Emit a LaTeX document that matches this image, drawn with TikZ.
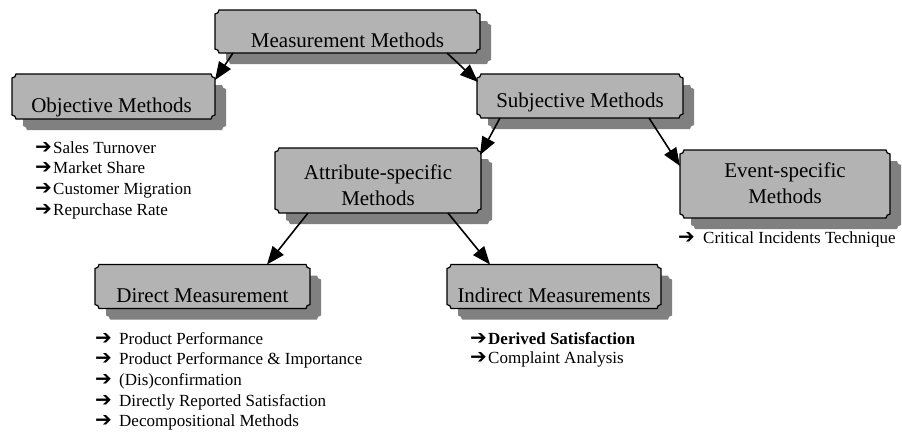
\documentclass[tikz,border=0pt]{standalone}
\usepackage{fontspec}
\setmainfont{Liberation Serif}
\newfontfamily\arrowfont{DejaVu Sans}
\usetikzlibrary{arrows.meta,calc}
\definecolor{boxgray}{HTML}{B3B3B3}
\definecolor{shadowgray}{HTML}{808080}
\newcommand{\scoop}[3]{%
 \path[#3] let \p1=($(#1.south west)+#2$), \p2=($(#1.north east)+#2$) in
   (\x1+4pt,\y1) -- (\x2-4pt,\y1) arc[start angle=180,end angle=90,radius=4pt]
   -- (\x2,\y2-4pt) arc[start angle=270,end angle=180,radius=4pt]
   -- (\x1+4pt,\y2) arc[start angle=0,end angle=-90,radius=4pt]
   -- (\x1,\y1+4pt) arc[start angle=90,end angle=0,radius=4pt] -- cycle;}
\newcommand{\arr}[1]{\makebox[#1][l]{\arrowfont\fontsize{20}{20}\selectfont ➔}}
\tikzset{
  boxn/.style={inner sep=0pt, outer sep=0pt, draw=none},
  shadowstyle/.style={fill=shadowgray},
  boxstyle/.style={fill=boxgray, draw=black, line width=1.2pt},
  lbl/.style={anchor=base, inner sep=0pt, font=\fontsize{21}{26}\selectfont},
  item/.style={anchor=base west, inner sep=0pt, font=\fontsize{17}{20}\selectfont},
  conn/.style={line width=1.6pt, -{Triangle[length=18pt,width=14pt]}}
}
\begin{document}
\begin{tikzpicture}[x=1pt,y=1pt]
\useasboundingbox (0,0) rectangle (902,-432);
% box placeholders
\node[boxn, minimum width=265pt, minimum height=43pt] (meas) at (347.5,-31.5) {};
\node[boxn, minimum width=203pt, minimum height=45pt] (obj) at (113.5,-96.5) {};
\node[boxn, minimum width=206pt, minimum height=44pt] (subj) at (580,-96) {};
\node[boxn, minimum width=206pt, minimum height=65pt] (attr) at (378,-180.5) {};
\node[boxn, minimum width=210pt, minimum height=68pt] (event) at (785,-184) {};
\node[boxn, minimum width=215pt, minimum height=44pt] (direct) at (202.5,-286.5) {};
\node[boxn, minimum width=214pt, minimum height=44pt] (indirect) at (554,-286.5) {};
% shadows
\foreach \bx in {meas,obj,subj,attr,event,direct,indirect}{\scoop{\bx}{(11,-11)}{shadowstyle}}
% boxes
\foreach \bx in {meas,obj,subj,attr,event,direct,indirect}{\scoop{\bx}{(0,0)}{boxstyle}}
% labels
\node[lbl] (measT) at (347.5,-47) {Measurement Methods};
\node[lbl] (objT) at (111.5,-112) {Objective Methods};
\node[lbl] (subjT) at (580,-107) {Subjective Methods};
\node[lbl] (attrT1) at (378,-179) {Attribute-specific};
\node[lbl] (attrT2) at (378,-205) {Methods};
\node[lbl] (eventT1) at (785,-177) {Event-specific};
\node[lbl] (eventT2) at (785,-203) {Methods};
\node[lbl] (directT) at (202.5,-302) {Direct Measurement};
\node[lbl] (indirectT) at (554,-302) {Indirect Measurements};
% lists
\foreach \t [count=\i] in {Sales Turnover,Market Share,Customer Migration,Repurchase Rate}
  {\node[item] (objL\i) at (35,{-153-20.8*(\i-1)}) {\arr{18pt}\t};}
\foreach \t [count=\i] in {Product Performance,Product Performance \& Importance,(Dis)confirmation,Directly Reported Satisfaction,Decompositional Methods}
  {\node[item] (dirL\i) at (95,{-344-20.7*(\i-1)}) {\arr{24pt}\t};}
\node[item] (indL1) at (470,-344) {\arr{18pt}\textbf{Derived Satisfaction}};
\node[item] (indL2) at (470,-363.5) {\arr{18pt}Complaint Analysis};
\node[item] (evL1) at (678,-243) {\arr{25pt}Critical Incidents Technique};
% connectors
\draw[conn] ($(meas.south west)+(18,0)$) -- ($(obj.north east)+(0,-6)$);
\draw[conn] ($(meas.south east)+(-33,0)$) -- ($(subj.north west)+(1,-8)$);
\draw[conn] ($(subj.south west)+(23,0)$) -- ($(attr.north east)+(-1,-7)$);
\draw[conn] ($(subj.south east)+(-34,0)$) -- ($(event.north west)+(0,-16)$);
\draw[conn] ($(attr.south west)+(33,0)$) -- ($(direct.north east)+(-43,0)$);
\draw[conn] ($(attr.south east)+(-33,0)$) -- ($(indirect.north west)+(43,0)$);
\end{tikzpicture}
\end{document}
